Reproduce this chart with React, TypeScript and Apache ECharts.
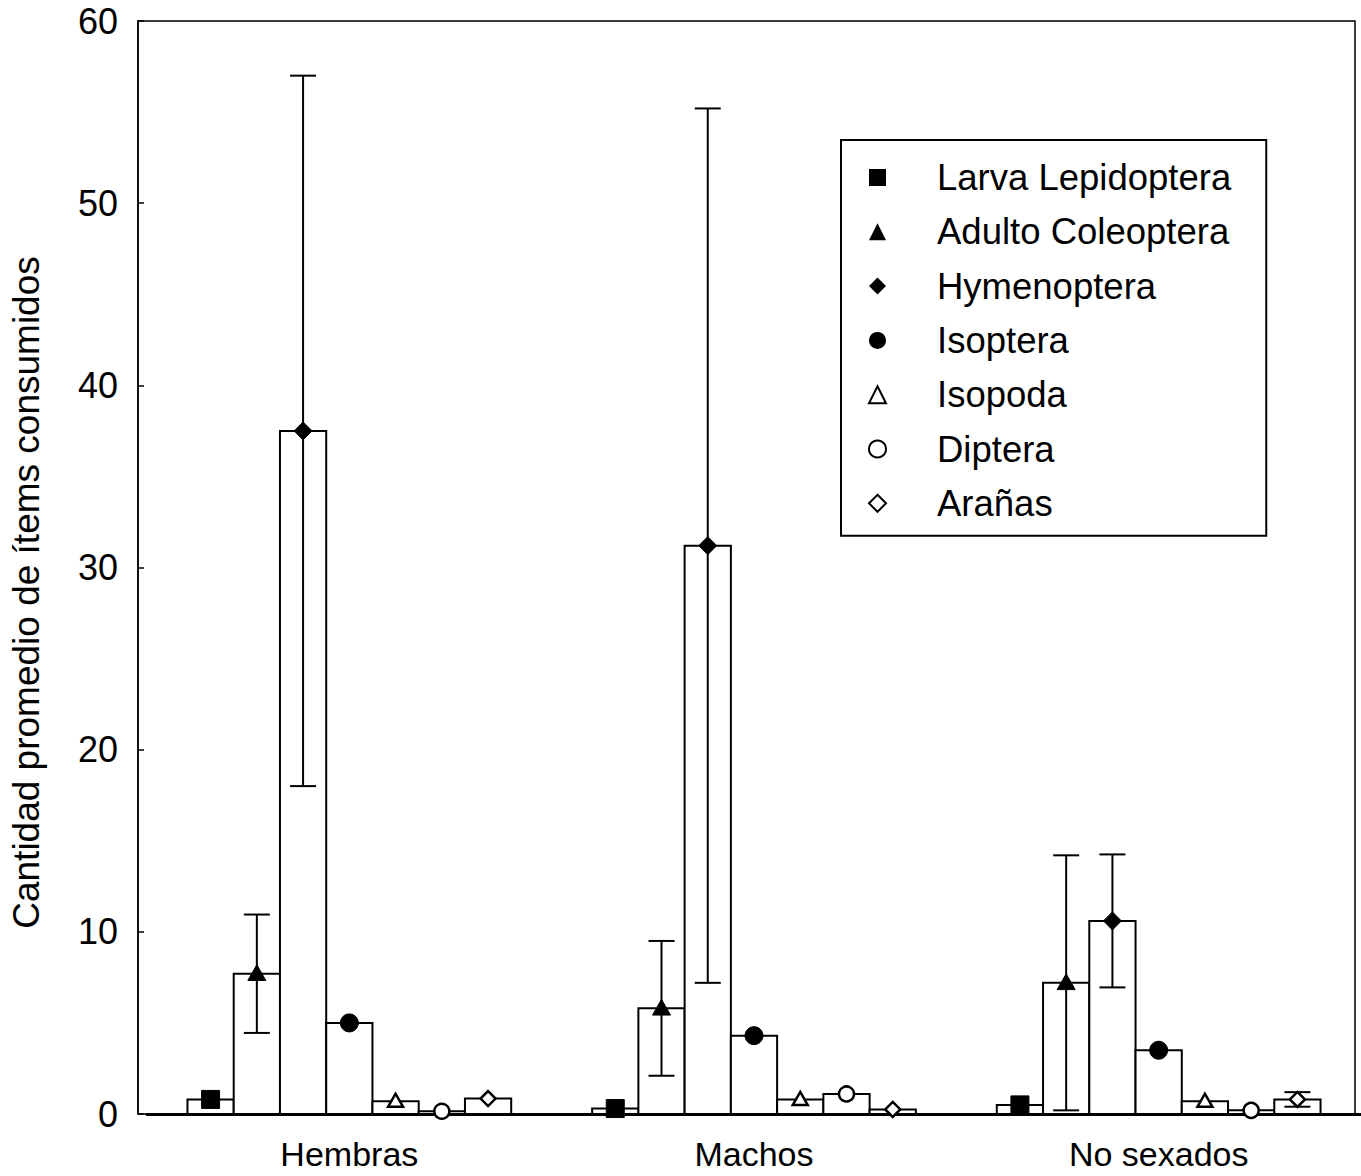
import React, { useEffect, useRef } from "react";
import * as echarts from "echarts";

const categories = ["Hembras", "Machos", "No sexados"];
const species = [
  "Larva Lepidoptera",
  "Adulto Coleoptera",
  "Hymenoptera",
  "Isoptera",
  "Isopoda",
  "Diptera",
  "Arañas",
];
// mean values per category (Hembras, Machos, No sexados)
const larvaLepidoptera = [0.8, 0.3, 0.5];
const adultoColeoptera = [7.7, 5.8, 7.2];
const hymenoptera = [37.5, 31.2, 10.6];
const isoptera = [5.0, 4.3, 3.5];
const isopoda = [0.7, 0.8, 0.7];
const diptera = [0.15, 1.1, 0.2];
const aranas = [0.85, 0.25, 0.8];
// error bar half-lengths
const larvaErr = [0, 0, 0];
const adultoErr = [3.25, 3.7, 7.0];
const hymenoErr = [19.5, 24.0, 3.65];
const isopteraErr = [0, 0, 0];
const isopodaErr = [0, 0, 0];
const dipteraErr = [0, 0, 0];
const aranasErr = [0, 0, 0.4];

const yTicks = { min: 0, max: 60, interval: 10 };

const values = [larvaLepidoptera, adultoColeoptera, hymenoptera, isoptera, isopoda, diptera, aranas];
const errors = [larvaErr, adultoErr, hymenoErr, isopteraErr, isopodaErr, dipteraErr, aranasErr];
const markerShapes = ["square", "triangle", "diamond", "circle", "triangle", "circle", "diamond"];
const markerFilled = [true, true, true, true, false, false, false];

const FONT = "Liberation Sans, Arial, sans-serif";

function markerShape(shape: string, filled: boolean, x: number, y: number) {
  const style = filled
    ? { fill: "#000", stroke: "#000", lineWidth: 1 }
    : { fill: "#fff", stroke: "#000", lineWidth: 2.5 };
  const r = filled ? 9 : 7.5;
  if (shape === "square") {
    return { type: "rect", shape: { x: x - r, y: y - r, width: 2 * r, height: 2 * r }, style };
  }
  if (shape === "circle") {
    return { type: "circle", shape: { cx: x, cy: y, r: r }, style };
  }
  if (shape === "triangle") {
    return {
      type: "polygon",
      shape: { points: [[x, y - r], [x + r, y + r * 0.75], [x - r, y + r * 0.75]] },
      style,
    };
  }
  return {
    type: "polygon",
    shape: { points: [[x, y - r], [x + r, y], [x, y + r], [x - r, y]] },
    style,
  };
}

export default function App() {
  const ref = useRef<HTMLDivElement>(null);
  useEffect(() => {
    if (!ref.current) return;
    const chart = echarts.init(ref.current, null, { renderer: "svg" });

    const series = species.map((name, s) => ({
      name,
      type: "custom",
      xAxisIndex: 0,
      yAxisIndex: 0,
      encode: { x: 0, y: 1 },
      z: 3,
      data: categories.map((_, ci) => [ci, values[s][ci], errors[s][ci]]),
      renderItem: (params: any, api: any) => {
        const ci = api.value(0);
        const v = api.value(1);
        const e = api.value(2);
        const band = api.size([1, 0])[0];
        const groupW = band * 0.8;
        const bw = groupW / 7;
        const base = api.coord([ci, 0]);
        const top = api.coord([ci, v]);
        const x0 = base[0] - groupW / 2 + s * bw;
        const xc = x0 + bw / 2;
        const children: any[] = [
          {
            type: "rect",
            shape: { x: x0, y: top[1], width: bw, height: base[1] - top[1] },
            style: { fill: "#fff", stroke: "#000", lineWidth: 2 },
          },
        ];
        if (e > 0) {
          const hi = api.coord([ci, v + e])[1];
          const lo = api.coord([ci, Math.max(0, v - e)])[1];
          const cap = 13;
          const ls = { stroke: "#000", lineWidth: 2 };
          children.push({ type: "line", shape: { x1: xc, y1: hi, x2: xc, y2: lo }, style: ls });
          children.push({ type: "line", shape: { x1: xc - cap, y1: hi, x2: xc + cap, y2: hi }, style: ls });
          children.push({ type: "line", shape: { x1: xc - cap, y1: lo, x2: xc + cap, y2: lo }, style: ls });
        }
        children.push(markerShape(markerShapes[s], markerFilled[s], xc, top[1]));
        return { type: "group", children };
      },
    }));

    const legendData = species.map((name, s) => ({
      name,
      icon: markerShapes[s] === "square" ? "rect" : markerShapes[s],
      itemStyle: markerFilled[s]
        ? { color: "#000", borderColor: "#000", borderWidth: 0 }
        : { color: "#fff", borderColor: "#000", borderWidth: 2 },
    }));

    chart.setOption({
      animation: false,
      backgroundColor: "#fff",
      grid: {
        left: 147,
        right: -7,
        top: 21,
        bottom: 62,
        show: false,
      },
      graphic: [
        {
          type: "rect",
          silent: true,
          z: 1,
          shape: { x: 138, y: 21, width: 1217, height: 1093 },
          style: { fill: "none", stroke: "#000", lineWidth: 1.5 },
        },
      ],
      legend: {
        orient: "vertical",
        left: 841,
        top: 140,
        padding: [19, 35, 14, 27],
        itemWidth: 17,
        itemHeight: 17,
        itemGap: 17.3,
        borderColor: "#000",
        borderWidth: 2,
        backgroundColor: "#fff",
        selectedMode: false,
        z: 10,
        textStyle: {
          fontFamily: FONT,
          fontSize: 36.5,
          color: "#000",
          lineHeight: 36,
          padding: [0, 0, 0, 46],
        },
        data: legendData,
      },
      xAxis: [
        {
          type: "category",
          data: categories,
          position: "bottom",
          boundaryGap: true,
          axisLine: { lineStyle: { color: "#000", width: 3 } },
          axisTick: { inside: true, length: 6, lineStyle: { color: "#000", width: 1.5 } },
          axisLabel: { fontFamily: FONT, fontSize: 34, color: "#000", margin: 23 },
        },
        {
          type: "category",
          data: categories,
          position: "top",
          boundaryGap: true,
          axisLine: { show: false },
          axisTick: { inside: true, length: 6, lineStyle: { color: "#000", width: 1.5 } },
          axisLabel: { show: false },
        },
      ],
      yAxis: {
        type: "value",
        min: yTicks.min,
        max: yTicks.max,
        interval: yTicks.interval,
        offset: 9,
        name: "Cantidad promedio de ítems consumidos",
        nameLocation: "middle",
        nameGap: 93,
        nameTextStyle: { fontFamily: FONT, fontSize: 37, color: "#000", padding: [0, 50, 0, 0] },
        axisLine: { show: true, lineStyle: { color: "#000", width: 1.5 } },
        axisTick: { show: true, inside: true, length: 6, lineStyle: { color: "#000", width: 1.5 } },
        axisLabel: { fontFamily: FONT, fontSize: 36, color: "#000", margin: 20 },
        splitLine: { show: false },
      },
      series,
    });
    return () => chart.dispose();
  }, []);
  return (
    <div
      ref={ref}
      style={{ position: "fixed", left: 0, top: 0, width: 1361, height: 1176, background: "#fff" }}
    />
  );
}
